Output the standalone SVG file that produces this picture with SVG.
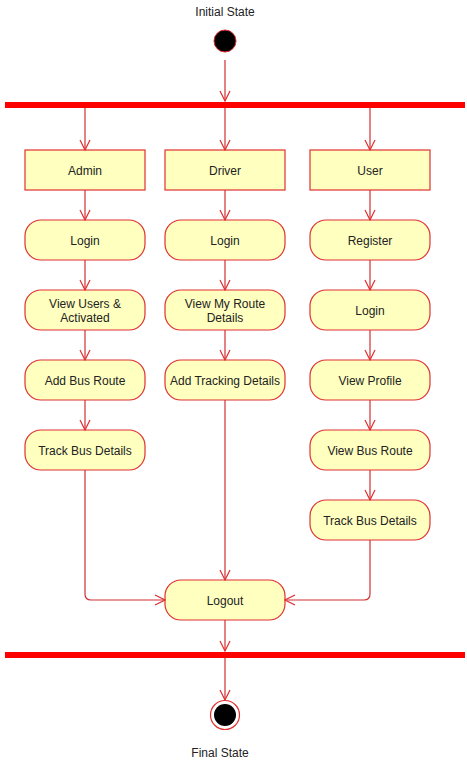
<svg xmlns="http://www.w3.org/2000/svg" width="467" height="766" viewBox="0 0 467 766">
<style>
.box{fill:#ffffc0;stroke:#e03030;stroke-width:1.2}
.t{font-family:"Liberation Sans",Arial,sans-serif;font-size:12px;fill:#222;text-anchor:middle}
.c{fill:none;stroke:#d03030;stroke-width:1.2}
.bar{fill:#ff0000}
</style>
<defs>
<marker id="a" viewBox="0 0 12 12" refX="11" refY="6" markerWidth="12" markerHeight="12" markerUnits="userSpaceOnUse" orient="auto">
<path d="M1,1 L11,6 L1,11" fill="none" stroke="#e03030" stroke-width="1.2"/>
</marker>
</defs>
<rect width="467" height="766" fill="#fff"/>
<g id="initial">
<text class="t" x="225" y="16">Initial State</text>
<circle cx="225" cy="41" r="11" fill="#000" stroke="#e03030" stroke-width="1"/>
</g>
<g id="fork"><rect class="bar" x="5" y="102" width="460" height="6"/></g>
<g id="join"><rect class="bar" x="5" y="652" width="460" height="6"/></g>
<g id="admin"><rect class="box" x="25" y="150" width="120" height="40"/><text class="t" x="85" y="175">Admin</text></g>
<g id="driver"><rect class="box" x="165" y="150" width="120" height="40"/><text class="t" x="225" y="175">Driver</text></g>
<g id="user"><rect class="box" x="310" y="150" width="120" height="40"/><text class="t" x="370" y="175">User</text></g>
<g id="a_login"><rect class="box" x="25" y="220" width="120" height="40" rx="16"/><text class="t" x="85" y="245">Login</text></g>
<g id="a_view"><rect class="box" x="25" y="290" width="120" height="40" rx="16"/><text class="t" x="85" y="308">View Users &amp;</text><text class="t" x="85" y="322">Activated</text></g>
<g id="a_add"><rect class="box" x="25" y="360" width="120" height="40" rx="16"/><text class="t" x="85" y="385">Add Bus Route</text></g>
<g id="a_track"><rect class="box" x="25" y="430" width="120" height="40" rx="16"/><text class="t" x="85" y="455">Track Bus Details</text></g>
<g id="d_login"><rect class="box" x="165" y="220" width="120" height="40" rx="16"/><text class="t" x="225" y="245">Login</text></g>
<g id="d_view"><rect class="box" x="165" y="290" width="120" height="40" rx="16"/><text class="t" x="225" y="308">View My Route</text><text class="t" x="225" y="322">Details</text></g>
<g id="d_add"><rect class="box" x="165" y="360" width="120" height="40" rx="16"/><text class="t" x="225" y="385">Add Tracking Details</text></g>
<g id="u_reg"><rect class="box" x="310" y="220" width="120" height="40" rx="16"/><text class="t" x="370" y="245">Register</text></g>
<g id="u_login"><rect class="box" x="310" y="290" width="120" height="40" rx="16"/><text class="t" x="370" y="315">Login</text></g>
<g id="u_profile"><rect class="box" x="310" y="360" width="120" height="40" rx="16"/><text class="t" x="370" y="385">View Profile</text></g>
<g id="u_route"><rect class="box" x="310" y="430" width="120" height="40" rx="16"/><text class="t" x="370" y="455">View Bus Route</text></g>
<g id="u_track"><rect class="box" x="310" y="500" width="120" height="40" rx="16"/><text class="t" x="370" y="525">Track Bus Details</text></g>
<g id="logout"><rect class="box" x="165" y="580" width="120" height="40" rx="16"/><text class="t" x="225" y="605">Logout</text></g>
<g id="final">
<circle cx="225" cy="715" r="14.5" fill="#fff" stroke="#e03030" stroke-width="1.2"/>
<circle cx="225" cy="715" r="11" fill="#000"/>
<text class="t" x="220" y="757">Final State</text>
</g>
<g id="connectors">
<path class="c" marker-end="url(#a)" d="M225,60 V101"/>
<path class="c" marker-end="url(#a)" d="M85,108 V150"/>
<path class="c" marker-end="url(#a)" d="M225,108 V150"/>
<path class="c" marker-end="url(#a)" d="M370,108 V150"/>
<path class="c" marker-end="url(#a)" d="M85,190 V220"/>
<path class="c" marker-end="url(#a)" d="M85,260 V290"/>
<path class="c" marker-end="url(#a)" d="M85,330 V360"/>
<path class="c" marker-end="url(#a)" d="M85,400 V430"/>
<path class="c" marker-end="url(#a)" d="M225,190 V220"/>
<path class="c" marker-end="url(#a)" d="M225,260 V290"/>
<path class="c" marker-end="url(#a)" d="M225,330 V360"/>
<path class="c" marker-end="url(#a)" d="M225,400 V580"/>
<path class="c" marker-end="url(#a)" d="M370,190 V220"/>
<path class="c" marker-end="url(#a)" d="M370,260 V290"/>
<path class="c" marker-end="url(#a)" d="M370,330 V360"/>
<path class="c" marker-end="url(#a)" d="M370,400 V430"/>
<path class="c" marker-end="url(#a)" d="M370,470 V500"/>
<path class="c" marker-end="url(#a)" d="M85,470 V594 Q85,600 91,600 H165"/>
<path class="c" marker-end="url(#a)" d="M370,540 V594 Q370,600 364,600 H285"/>
<path class="c" marker-end="url(#a)" d="M225,620 V651"/>
<path class="c" marker-end="url(#a)" d="M225,658 V700"/>
</g>
</svg>
